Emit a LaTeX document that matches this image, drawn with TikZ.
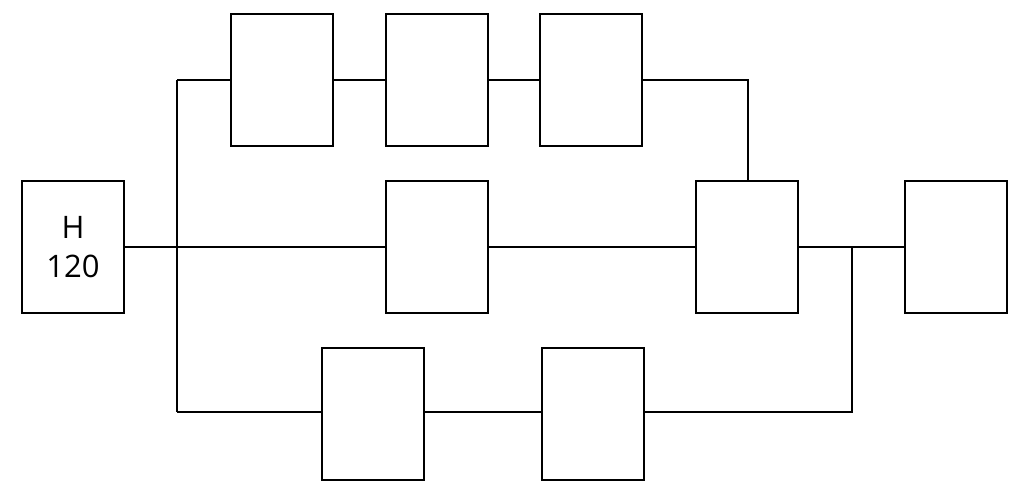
\documentclass[tikz,border=0pt]{standalone}
\usepackage{fontspec}
\setmainfont{Open Sans}
\begin{document}
\begin{tikzpicture}[x=1pt,y=-1pt,line width=2.5pt,
  blk/.style={draw,minimum width=102pt,minimum height=132pt,inner sep=0pt,outer sep=0pt,align=center,font=\fontsize{31}{39}\selectfont},
  wire/.style={draw,line cap=butt}]
\useasboundingbox (0,0) rectangle (1019,488);
\node[blk] (h) at (73,247) {H\\120};
\node[blk] (t1) at (282,80) {};
\node[blk] (t2) at (437,80) {};
\node[blk] (t3) at (591,80) {};
\node[blk] (m1) at (437,247) {};
\node[blk] (m2) at (747,247) {};
\node[blk] (r) at (956,247) {};
\node[blk] (b1) at (373,414) {};
\node[blk] (b2) at (593,414) {};
\coordinate (sTop) at (177,80);
\coordinate (sBot) at (177,412);
\coordinate (jTop) at (748,80);
\coordinate (jMid) at (852,247);
\coordinate (jBot) at (852,412);
\draw (sTop) -- (sBot);
\draw (h.east) -- (m1.west);
\draw (sTop) -- (t1.west);
\draw (t1.east) -- (t2.west);
\draw (t2.east) -- (t3.west);
\draw (t3.east) -- (jTop) -- (jTop |- m2.north);
\draw (m1.east) -- (m2.west);
\draw (m2.east) -- (r.west);
\draw (sBot) -- (sBot -| b1.west);
\draw (b1.east |- sBot) -- (b2.west |- sBot);
\draw (b2.east |- jBot) -- (jBot) -- (jMid);
\end{tikzpicture}
\end{document}
